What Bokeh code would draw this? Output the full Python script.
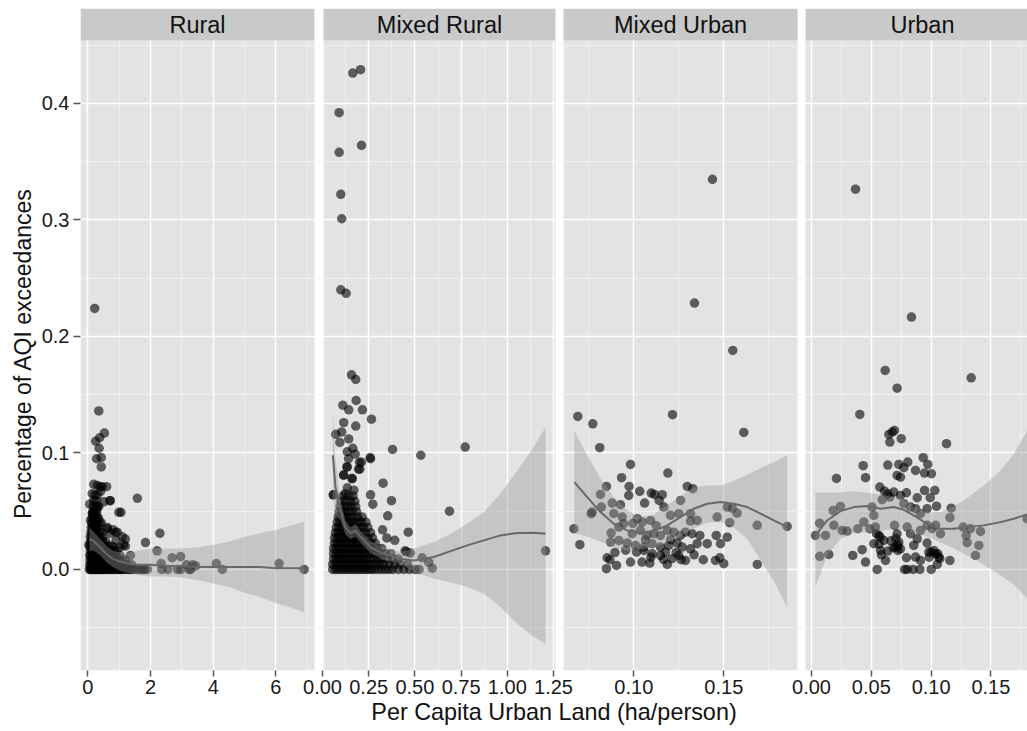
import math
from bokeh.plotting import figure
from bokeh.layouts import row
from bokeh.models import (Range1d, LinearAxis, FixedTicker, Grid, BoxAnnotation,
                          Label, NumeralTickFormatter)
from bokeh.core.properties import value
from bokeh.embed import file_html
from bokeh.resources import INLINE

# ------------------------------------------------------------------ data
panel_titles = ["Rural", "Mixed Rural", "Mixed Urban", "Urban"]
x_title = "Per Capita Urban Land (ha/person)"
y_title = "Percentage of AQI exceedances"

y_ticks = [0.0, 0.1, 0.2, 0.3, 0.4]
y_minor = [-0.05, 0.05, 0.15, 0.25, 0.35, 0.45]

rural_ticks = [0, 2, 4, 6]
rural_tick_labels = ["0", "2", "4", "6"]
rural_minor = [1, 3, 5, 7]
mr_ticks = [0.0, 0.25, 0.5, 0.75, 1.0, 1.25]
mr_tick_labels = ["0.00", "0.25", "0.50", "0.75", "1.00", "1.25"]
mr_minor = [0.125, 0.375, 0.625, 0.875, 1.125]
mu_ticks = [0.10, 0.15]
mu_tick_labels = ["0.10", "0.15"]
mu_minor = [0.075, 0.125, 0.175]
u_ticks = [0.0, 0.05, 0.10, 0.15]
u_tick_labels = ["0.00", "0.05", "0.10", "0.15"]
u_minor = [0.025, 0.075, 0.125, 0.175]

# ---- Rural points
rural_pts = [
    (0.22, 0.224), (0.35, 0.136), (0.25, 0.110), (0.38, 0.113), (0.53, 0.117), (0.36, 0.104),
    (0.28, 0.095), (0.43, 0.096), (0.43, 0.088), (0.19, 0.073), (0.31, 0.072), (0.40, 0.071),
    (0.60, 0.071), (1.58, 0.061), (0.70, 0.059), (0.06, 0.056), (0.29, 0.052), (0.99, 0.049),
    (1.06, 0.049), (0.14, 0.048), (0.62, 0.036), (0.88, 0.032), (1.20, 0.026), (0.90, 0.025),
    (1.14, 0.021), (2.30, 0.031), (1.84, 0.023), (2.21, 0.016), (2.96, 0.011), (2.69, 0.010),
    (2.34, 0.005), (3.15, 0.004), (3.35, 0.004), (4.10, 0.005), (4.29, 0.0), (6.10, 0.005),
    (6.90, 0.0), (2.36, 0.0), (2.55, 0.0), (2.86, 0.0), (2.97, 0.0), (3.24, 0.0), (1.80, 0.0),
    (1.63, 0.0), (1.37, 0.0), (0.41, 0.067), (0.46, 0.071), (0.14, 0.065), (0.72, 0.059),
    (0.35, 0.054), (0.51, 0.058), (0.17, 0.048), (0.30, 0.045), (0.09, 0.042), (0.25, 0.038),
    (0.43, 0.040), (0.62, 0.035), (0.81, 0.034), (0.94, 0.032), (0.72, 0.031), (1.10, 0.028),
    (1.20, 0.020), (0.83, 0.019), (1.36, 0.012), (1.02, 0.019), (0.03, 0.021), (3.44, 0.003),
    (3.28, 0.0), (1.90, 0.0), (1.79, 0.0), (1.04, 0.0),
]
# dense cluster of the Rural panel, read row by row (y level -> x values)
rural_rows_y = [0.0, 0.004, 0.008, 0.012, 0.016, 0.020, 0.024, 0.028, 0.032, 0.036,
                0.040, 0.044, 0.049, 0.054, 0.059, 0.064]
rural_rows_x = [
    [0.05, 0.08, 0.11, 0.14, 0.17, 0.20, 0.23, 0.26, 0.29, 0.32, 0.35, 0.38, 0.41, 0.44, 0.47,
     0.50, 0.54, 0.58, 0.62, 0.66, 0.70, 0.75, 0.80, 0.85, 0.90, 0.95, 1.00, 1.07, 1.14, 1.21,
     1.28, 1.35, 1.45, 1.55, 1.70],
    [0.06, 0.10, 0.14, 0.18, 0.22, 0.26, 0.30, 0.34, 0.38, 0.43, 0.48, 0.53, 0.58, 0.64, 0.70,
     0.76, 0.83, 0.90, 0.98, 1.06, 1.15, 1.25, 1.40],
    [0.07, 0.11, 0.15, 0.19, 0.23, 0.27, 0.31, 0.36, 0.41, 0.46, 0.52, 0.58, 0.65, 0.72, 0.80,
     0.88, 0.97, 1.08, 1.20],
    [0.06, 0.10, 0.14, 0.18, 0.22, 0.27, 0.32, 0.37, 0.43, 0.49, 0.56, 0.63, 0.71, 0.80, 0.90, 1.02],
    [0.08, 0.12, 0.16, 0.20, 0.25, 0.30, 0.35, 0.41, 0.47, 0.54, 0.62, 0.71, 0.81, 0.92],
    [0.07, 0.11, 0.15, 0.19, 0.24, 0.29, 0.35, 0.41, 0.48, 0.56, 0.65, 0.75],
    [0.09, 0.13, 0.17, 0.22, 0.27, 0.33, 0.40, 0.48, 0.57],
    [0.08, 0.12, 0.16, 0.21, 0.26, 0.32, 0.39, 0.47],
    [0.10, 0.14, 0.19, 0.24, 0.30, 0.37, 0.45],
    [0.11, 0.15, 0.20, 0.26, 0.33],
    [0.12, 0.17, 0.23, 0.30, 0.38],
    [0.13, 0.19, 0.26, 0.34],
    [0.15, 0.21, 0.28],
    [0.17, 0.24, 0.32],
    [0.19, 0.27],
    [0.22, 0.31],
]
rural_smooth_x = [0.05, 0.2, 0.4, 0.6, 0.8, 1.0, 1.3, 1.6, 2.0, 2.5, 3.0, 3.5, 4.0, 4.5, 5.0, 5.5, 6.0, 6.5, 6.9]
rural_smooth_y = [0.026, 0.024, 0.019, 0.013, 0.009, 0.007, 0.005, 0.004, 0.004, 0.003, 0.003,
                  0.002, 0.002, 0.002, 0.002, 0.002, 0.001, 0.001, 0.001]
rural_lower = [0.016, 0.016, 0.012, 0.006, 0.002, -0.001, -0.003, -0.005, -0.006, -0.006, -0.007,
               -0.009, -0.012, -0.015, -0.020, -0.024, -0.029, -0.033, -0.037]
rural_upper = [0.036, 0.032, 0.026, 0.020, 0.016, 0.015, 0.014, 0.016, 0.018, 0.018, 0.018,
               0.019, 0.021, 0.024, 0.028, 0.031, 0.034, 0.038, 0.041]

# ---- Mixed Rural points
mr_pts = [
    (0.164, 0.426), (0.206, 0.429), (0.090, 0.392), (0.211, 0.364), (0.090, 0.358), (0.099, 0.322),
    (0.104, 0.301), (0.099, 0.240), (0.128, 0.237), (0.157, 0.167), (0.180, 0.163), (0.110, 0.141),
    (0.182, 0.145), (0.142, 0.137), (0.216, 0.137), (0.265, 0.129), (0.115, 0.126), (0.180, 0.123),
    (0.072, 0.116), (0.104, 0.118), (0.142, 0.112), (0.094, 0.109), (0.379, 0.103), (0.532, 0.098),
    (0.772, 0.105), (0.134, 0.101), (0.164, 0.104), (0.177, 0.099), (0.260, 0.095), (0.211, 0.092),
    (0.134, 0.088), (0.202, 0.086), (0.115, 0.081), (0.161, 0.078), (0.328, 0.074), (0.134, 0.070),
    (0.058, 0.064), (0.170, 0.068), (0.260, 0.064), (0.373, 0.059), (0.687, 0.050), (0.353, 0.046),
    (0.464, 0.032), (1.207, 0.016), (0.325, 0.034), (0.391, 0.025), (0.455, 0.015), (0.539, 0.010),
    (0.594, 0.001), (0.272, 0.056), (0.348, 0.027), (0.447, 0.016), (0.475, 0.014), (0.575, 0.006),
    (0.523, 0.0), (0.141, 0.095), (0.200, 0.092), (0.132, 0.088), (0.195, 0.086), (0.114, 0.081),
    (0.159, 0.078), (0.060, 0.064), (0.123, 0.065), (0.258, 0.096),
]
mr_rows_y = [0.0, 0.0045, 0.009, 0.0135, 0.018, 0.0225, 0.027, 0.0315, 0.036, 0.0405, 0.045,
             0.0495, 0.054, 0.0585, 0.063]
mr_rows_x = [
    [0.055, 0.07, 0.085, 0.10, 0.115, 0.13, 0.145, 0.16, 0.175, 0.19, 0.205, 0.22, 0.235, 0.25,
     0.265, 0.28, 0.30, 0.32, 0.34, 0.36, 0.38, 0.41, 0.44, 0.47, 0.50],
    [0.055, 0.07, 0.085, 0.10, 0.115, 0.13, 0.145, 0.16, 0.175, 0.19, 0.205, 0.22, 0.235, 0.25,
     0.27, 0.29, 0.31, 0.33, 0.36, 0.39, 0.42, 0.46],
    [0.06, 0.075, 0.09, 0.105, 0.12, 0.135, 0.15, 0.165, 0.18, 0.195, 0.21, 0.225, 0.24, 0.26,
     0.28, 0.30, 0.32, 0.35, 0.38, 0.41],
    [0.06, 0.075, 0.09, 0.105, 0.12, 0.135, 0.15, 0.165, 0.18, 0.195, 0.21, 0.225, 0.245, 0.265,
     0.285, 0.31, 0.34, 0.37],
    [0.06, 0.075, 0.09, 0.105, 0.12, 0.135, 0.15, 0.165, 0.18, 0.195, 0.21, 0.23, 0.25, 0.27,
     0.295, 0.32],
    [0.065, 0.08, 0.095, 0.11, 0.125, 0.14, 0.155, 0.17, 0.185, 0.20, 0.22, 0.24, 0.26, 0.285],
    [0.065, 0.08, 0.095, 0.11, 0.125, 0.14, 0.155, 0.17, 0.185, 0.20, 0.22, 0.245, 0.27],
    [0.07, 0.085, 0.10, 0.115, 0.13, 0.145, 0.16, 0.175, 0.19, 0.21, 0.23, 0.26],
    [0.075, 0.09, 0.105, 0.12, 0.135, 0.15, 0.165, 0.18, 0.20, 0.22, 0.245],
    [0.08, 0.095, 0.11, 0.125, 0.14, 0.155, 0.17, 0.19, 0.21, 0.235],
    [0.085, 0.10, 0.115, 0.13, 0.145, 0.165, 0.19, 0.215],
    [0.09, 0.105, 0.12, 0.14, 0.16, 0.185],
    [0.095, 0.115, 0.135, 0.155, 0.18],
    [0.10, 0.125, 0.15, 0.175],
    [0.11, 0.14, 0.165],
]
mr_smooth_x = [0.056, 0.070, 0.097, 0.124, 0.152, 0.179, 0.206, 0.26, 0.332, 0.422, 0.494, 0.602,
               0.693, 0.783, 0.873, 0.963, 1.054, 1.143, 1.207]
mr_smooth_y = [0.098, 0.071, 0.051, 0.036, 0.031, 0.0335, 0.028, 0.019, 0.0134, 0.0092, 0.0077,
               0.0106, 0.0157, 0.0206, 0.0249, 0.0292, 0.0312, 0.0315, 0.0306]
mr_lower = [0.062, 0.047, 0.042, 0.030, 0.026, 0.028, 0.023, 0.014, 0.008, 0.0049, -0.002, -0.008,
            -0.011, -0.0152, -0.0209, -0.0323, -0.0466, -0.058, -0.0638]
mr_upper = [0.135, 0.095, 0.060, 0.042, 0.036, 0.039, 0.033, 0.024, 0.019, 0.015, 0.018, 0.0234,
            0.0306, 0.0392, 0.0492, 0.065, 0.085, 0.105, 0.122]

# ---- Mixed Urban points
mu_pts = [
    (0.1437, 0.3348), (0.1337, 0.2286), (0.155, 0.188), (0.0689, 0.1313), (0.0772, 0.125),
    (0.0811, 0.1045), (0.1215, 0.1328), (0.1611, 0.1176), (0.0982, 0.0901), (0.1189, 0.0827),
    (0.0932, 0.0787), (0.0848, 0.0712), (0.0974, 0.0712), (0.1297, 0.0712), (0.1328, 0.0693),
    (0.0815, 0.0644), (0.0972, 0.0635), (0.1033, 0.067), (0.1097, 0.0655), (0.1115, 0.0644),
    (0.1158, 0.0641), (0.088, 0.0569), (0.0926, 0.0555), (0.106, 0.0569), (0.1141, 0.0592),
    (0.1167, 0.0535), (0.126, 0.0592), (0.0769, 0.0492), (0.0763, 0.0478), (0.082, 0.0535),
    (0.0889, 0.048), (0.0936, 0.0449), (0.1019, 0.0435), (0.1047, 0.0406), (0.1093, 0.042),
    (0.1204, 0.0464), (0.125, 0.0478), (0.1315, 0.0478), (0.1352, 0.042), (0.1463, 0.0449),
    (0.1519, 0.0535), (0.1547, 0.0526), (0.1574, 0.0483), (0.1533, 0.0401), (0.1686, 0.0378),
    (0.1852, 0.0369), (0.0667, 0.0349), (0.07, 0.0212), (0.0874, 0.0312), (0.0917, 0.0363),
    (0.0944, 0.0392), (0.0991, 0.0306), (0.1037, 0.0335), (0.1074, 0.0292), (0.1111, 0.0306),
    (0.1148, 0.0292), (0.1186, 0.0335), (0.1222, 0.032), (0.1259, 0.0292), (0.1287, 0.032),
    (0.1324, 0.0306), (0.1367, 0.0292), (0.1408, 0.0221), (0.1458, 0.0292), (0.1482, 0.0221),
    (0.1519, 0.0277), (0.1686, 0.0043), (0.0871, 0.0235), (0.0917, 0.0249), (0.0963, 0.0226),
    (0.1009, 0.0206), (0.1056, 0.0192), (0.1102, 0.0221), (0.1148, 0.0192), (0.1194, 0.0206),
    (0.1241, 0.0226), (0.1269, 0.0192), (0.1315, 0.0177), (0.1352, 0.0221), (0.0852, 0.01),
    (0.0867, 0.0083), (0.0904, 0.0034), (0.0848, 0.0006), (0.0982, 0.0063), (0.1046, 0.0063),
    (0.1089, 0.0054), (0.1186, 0.0043), (0.1213, 0.0092), (0.1263, 0.0083), (0.1287, 0.0077),
    (0.1386, 0.0083), (0.1454, 0.0077), (0.1478, 0.01), (0.15, 0.0049), (0.1015, 0.0149),
    (0.1056, 0.0163), (0.1102, 0.0135), (0.1148, 0.012), (0.1176, 0.0149), (0.125, 0.012),
    (0.0995, 0.0395), (0.1065, 0.0255), (0.1125, 0.0375), (0.1205, 0.0255), (0.0955, 0.0165),
    (0.1095, 0.0105), (0.1235, 0.0145), (0.1335, 0.0125), (0.0895, 0.0145), (0.1165, 0.0085),
    (0.1315, 0.0415),
]
mu_smooth_x = [0.067, 0.0741, 0.0815, 0.0889, 0.0963, 0.1037, 0.1111, 0.1186, 0.1259, 0.1333,
               0.1408, 0.1482, 0.1556, 0.163, 0.1704, 0.1778, 0.1852]
mu_smooth_y = [0.075, 0.062, 0.0492, 0.0392, 0.0335, 0.0315, 0.0329, 0.0378, 0.0449, 0.0521,
               0.0564, 0.0578, 0.0564, 0.0535, 0.0478, 0.042, 0.0363]
mu_lower = [0.031, 0.028, 0.024, 0.019, 0.016, 0.017, 0.019, 0.023, 0.028, 0.035, 0.040, 0.041,
            0.036, 0.026, 0.008, -0.010, -0.032]
mu_upper = [0.119, 0.098, 0.078, 0.062, 0.051, 0.045, 0.047, 0.055, 0.063, 0.070, 0.072, 0.072,
            0.076, 0.081, 0.087, 0.092, 0.098]

# ---- Urban points
u_pts = [
    (0.0368, 0.3264), (0.0836, 0.2166), (0.0616, 0.1708), (0.0716, 0.1556), (0.1335, 0.1645),
    (0.0404, 0.133), (0.0647, 0.1159), (0.0694, 0.1193), (0.0675, 0.1179), (0.075, 0.1122),
    (0.0655, 0.1093), (0.1129, 0.1079), (0.0432, 0.089), (0.0638, 0.0896), (0.073, 0.0901),
    (0.0805, 0.0921), (0.0772, 0.0873), (0.0209, 0.0781), (0.0452, 0.0787), (0.0934, 0.0959),
    (0.0973, 0.0901), (0.087, 0.085), (0.0945, 0.0827), (0.1003, 0.0821), (0.0716, 0.0807),
    (0.0744, 0.0792), (0.0571, 0.0707), (0.061, 0.0672), (0.0638, 0.065), (0.0688, 0.0664),
    (0.0794, 0.0658), (0.0744, 0.0635), (0.0945, 0.0678), (0.1031, 0.0678), (0.0884, 0.0615),
    (0.0993, 0.0615), (0.0591, 0.0598), (0.0655, 0.0621), (0.1045, 0.0543), (0.1168, 0.0526),
    (0.0181, 0.0506), (0.0242, 0.0541), (0.0507, 0.0535), (0.0521, 0.0464), (0.0772, 0.0564),
    (0.0828, 0.0535), (0.087, 0.0521), (0.0911, 0.0478), (0.0967, 0.0521), (0.1157, 0.0444),
    (0.0069, 0.0397), (0.0117, 0.0292), (0.0033, 0.0292), (0.0187, 0.0378), (0.0257, 0.0335),
    (0.0298, 0.0329), (0.0387, 0.0349), (0.0437, 0.0406), (0.0487, 0.0349), (0.0535, 0.0363),
    (0.0543, 0.0306), (0.0563, 0.0292), (0.0605, 0.0249), (0.0694, 0.0378), (0.0716, 0.0306),
    (0.073, 0.0235), (0.0702, 0.0192), (0.0744, 0.0177), (0.08, 0.0363), (0.0828, 0.0306),
    (0.0884, 0.0263), (0.0855, 0.0206), (0.0911, 0.0335), (0.0967, 0.0378), (0.1009, 0.0349),
    (0.1037, 0.0378), (0.1079, 0.0306), (0.0967, 0.0226), (0.1001, 0.0149), (0.1037, 0.0135),
    (0.1064, 0.0106), (0.1268, 0.0363), (0.1329, 0.0349), (0.1413, 0.0326), (0.1293, 0.0292),
    (0.1301, 0.0229), (0.1399, 0.0206), (0.1371, 0.012), (0.1803, 0.0435), (0.0069, 0.0112),
    (0.0145, 0.0129), (0.0345, 0.012), (0.0424, 0.0169), (0.0452, 0.0063), (0.0549, 0.0),
    (0.0521, 0.0221), (0.0577, 0.0163), (0.0638, 0.0157), (0.0619, 0.0077), (0.0722, 0.0163),
    (0.0722, 0.0206), (0.0794, 0.01), (0.087, 0.0106), (0.0911, 0.0077), (0.0981, 0.0149),
    (0.1023, 0.0163), (0.1073, 0.0092), (0.1157, 0.0077), (0.0778, 0.0), (0.08, 0.0),
    (0.085, 0.0), (0.0906, 0.0), (0.1001, 0.0), (0.1051, 0.0043), (0.0575, 0.0275),
    (0.0665, 0.0245), (0.0685, 0.0185), (0.0705, 0.0265), (0.0985, 0.0105),
    (0.1055, 0.0135), (0.0565, 0.0215), (0.0585, 0.0125),
]
u_smooth_x = [0.0033, 0.0131, 0.0242, 0.0354, 0.0466, 0.0577, 0.0688, 0.0772, 0.0855, 0.0967,
              0.1079, 0.119, 0.1301, 0.1441, 0.158, 0.1692, 0.1803]
u_smooth_y = [0.0292, 0.042, 0.05, 0.0535, 0.0544, 0.0521, 0.0535, 0.0512, 0.0464, 0.0392,
              0.0349, 0.0349, 0.0363, 0.0378, 0.0406, 0.0435, 0.0472]
u_lower = [-0.015, 0.012, 0.026, 0.031, 0.032, 0.033, 0.035, 0.034, 0.031, 0.028, 0.023, 0.018,
           0.012, 0.004, -0.005, -0.013, -0.025]
u_upper = [0.066, 0.066, 0.066, 0.067, 0.066, 0.064, 0.062, 0.060, 0.054, 0.049, 0.049, 0.054,
           0.061, 0.072, 0.085, 0.099, 0.119]


def expand_rows(rows_y, rows_x):
    xs, ys = [], []
    for yv, row_ in zip(rows_y, rows_x):
        for xv in row_:
            xs.append(xv)
            ys.append(yv)
    return xs, ys


def split(pts):
    return [a for a, _ in pts], [b for _, b in pts]


rx_d, ry_d = expand_rows(rural_rows_y, rural_rows_x)
rx_s, ry_s = split(rural_pts)
mx_d, my_d = expand_rows(mr_rows_y, mr_rows_x)
mx_s, my_s = split(mr_pts)
ux_s, uy_s = split(mu_pts)
vx_s, vy_s = split(u_pts)

# ------------------------------------------------------------------ layout (page pixels)
FONT = "Liberation Sans"
PANEL_BG = "#E3E3E3"
STRIP_BG = "#C9C9C9"
TITLE_W = 38                       # narrow figure holding the y title
FRAME_L, FRAME_R = 80, 1027
FRAME_W = FRAME_R - FRAME_L
FRAME_H = 662
TOTAL_H = 731
PX_PER_Y = 1165.0
Y_PANEL_TOP = 0.454
Y_LO = Y_PANEL_TOP - 630 / PX_PER_Y
Y_HI = Y_PANEL_TOP + 32 / PX_PER_Y
Y_STRIP_MID = Y_PANEL_TOP + 16 / PX_PER_Y

panels = [
    dict(key="rural", title=panel_titles[0], left=80, right=314, cx=197, a_px=87.3, a_v=0.0, ppu=31.35,
         ticks=rural_ticks, labels=rural_tick_labels, minor=rural_minor,
         pts=[(rx_d, ry_d), (rx_s, ry_s)],
         smooth=(rural_smooth_x, rural_smooth_y, rural_lower, rural_upper)),
    dict(key="mr", title=panel_titles[1], left=323, right=555, cx=439, a_px=322.0, a_v=0.0, ppu=184.8,
         ticks=mr_ticks, labels=mr_tick_labels, minor=mr_minor,
         pts=[(mx_d, my_d), (mx_s, my_s)],
         smooth=(mr_smooth_x, mr_smooth_y, mr_lower, mr_upper)),
    dict(key="mu", title=panel_titles[2], left=563, right=797, cx=680, a_px=633.3, a_v=0.10, ppu=1800.0,
         ticks=mu_ticks, labels=mu_tick_labels, minor=mu_minor,
         pts=[(ux_s, uy_s)],
         smooth=(mu_smooth_x, mu_smooth_y, mu_lower, mu_upper)),
    dict(key="u", title=panel_titles[3], left=805, right=None, cx=922, a_px=811.0, a_v=0.0, ppu=1196.0,
         ticks=u_ticks, labels=u_tick_labels, minor=u_minor,
         pts=[(vx_s, vy_s)],
         smooth=(u_smooth_x, u_smooth_y, u_lower, u_upper)),
]

# ---- left strip: the y-axis title
t = figure(width=TITLE_W, height=TOTAL_H, x_range=Range1d(0, TITLE_W), y_range=Range1d(0, TOTAL_H),
           x_axis_type=None, y_axis_type=None, output_backend="svg", toolbar_location=None,
           min_border_left=0, min_border_right=0, min_border_top=0, min_border_bottom=0,
           outline_line_color=None)
t.background_fill_color = "white"
t.border_fill_color = "white"
t.text(x=[22], y=[TOTAL_H - 381], text=[y_title], angle=math.pi / 2,
       text_font=value(FONT), text_font_size="23px", text_color="#111111",
       text_align="center", text_baseline="middle")

# ---- main figure
p = figure(frame_width=FRAME_W, frame_height=FRAME_H,
           x_range=Range1d(FRAME_L, FRAME_R), y_range=Range1d(Y_LO, Y_HI),
           x_axis_type=None, y_axis_type=None,
           output_backend="svg", toolbar_location=None,
           min_border_left=FRAME_L - TITLE_W, min_border_right=0, min_border_top=8,
           min_border_bottom=TOTAL_H - 8 - FRAME_H)
p.background_fill_color = "white"
p.border_fill_color = "white"
p.outline_line_color = None

for pn in panels:
    start = pn["a_v"] - (pn["a_px"] - FRAME_L) / pn["ppu"]
    end = pn["a_v"] + (FRAME_R - pn["a_px"]) / pn["ppu"]
    p.extra_x_ranges[pn["key"]] = Range1d(start, end)

# panel backgrounds
for pn in panels:
    kw = dict(left=pn["left"], top=Y_PANEL_TOP)
    if pn["right"] is not None:
        kw["right"] = pn["right"]
    p.add_layout(BoxAnnotation(fill_color=PANEL_BG, fill_alpha=1, line_color=None,
                               level="underlay", **kw))

# grids
p.add_layout(Grid(dimension=1, ticker=FixedTicker(ticks=y_ticks, minor_ticks=y_minor),
                  grid_line_color="white", grid_line_width=1.5,
                  minor_grid_line_color="#F4F4F4", minor_grid_line_width=0.8))
for pn in panels:
    p.add_layout(Grid(dimension=0, x_range_name=pn["key"],
                      ticker=FixedTicker(ticks=pn["ticks"], minor_ticks=pn["minor"]),
                      grid_line_color="white", grid_line_width=1.5,
                      minor_grid_line_color="#F4F4F4", minor_grid_line_width=0.8))

# data: points, confidence band, smooth line
for pn in panels:
    for xs, ys in pn["pts"]:
        p.scatter(xs, ys, x_range_name=pn["key"], size=9.5, fill_color="black",
                  fill_alpha=0.6, line_color=None)
    sx, sy, lo, hi = pn["smooth"]
    p.varea(x=sx, y1=lo, y2=hi, x_range_name=pn["key"], fill_color="#999999", fill_alpha=0.4)
    p.line(sx, sy, x_range_name=pn["key"], line_color="#686868", line_width=2)

# strips
for pn in panels:
    kw = dict(left=pn["left"], bottom=Y_PANEL_TOP)
    if pn["right"] is not None:
        kw["right"] = pn["right"]
    p.add_layout(BoxAnnotation(fill_color=STRIP_BG, fill_alpha=1, line_color=None, **kw))
    p.add_layout(Label(x=pn["cx"], y=Y_STRIP_MID, text=pn["title"], text_font=FONT,
                       text_font_size="23.5px", text_color="#111111",
                       text_align="center", text_baseline="middle"))

# y axis
yax = LinearAxis(ticker=FixedTicker(ticks=y_ticks), formatter=NumeralTickFormatter(format="0.0"))
# x axis (one axis under all panels, tick positions taken from each panel's scale)
tick_px, tick_txt = [], {}
for pn in panels:
    for v, s in zip(pn["ticks"], pn["labels"]):
        px = round(pn["a_px"] + (v - pn["a_v"]) * pn["ppu"], 2)
        tick_px.append(px)
        tick_txt[px] = s
xax = LinearAxis(ticker=FixedTicker(ticks=tick_px), major_label_overrides=tick_txt,
                 axis_label=x_title)

for ax in (xax, yax):
    ax.axis_line_color = None
    ax.major_tick_line_color = "#555555"
    ax.major_tick_line_width = 1.5
    ax.major_tick_in = 0
    ax.minor_tick_line_color = None
    ax.major_label_text_font = FONT
    ax.major_label_text_font_size = "20px"
    ax.major_label_text_color = "#1a1a1a"
    ax.axis_label_text_font = FONT
    ax.axis_label_text_font_style = "normal"
    ax.axis_label_text_color = "#111111"
xax.major_tick_out = 6
xax.major_label_standoff = 3
xax.axis_label_text_font_size = "23.4px"
xax.axis_label_standoff = 2
yax.major_tick_out = 7
yax.major_label_standoff = 4
p.add_layout(yax, "left")
p.add_layout(xax, "below")

layout = row(t, p, spacing=0)
open("out.html", "w").write(file_html(layout, INLINE))
